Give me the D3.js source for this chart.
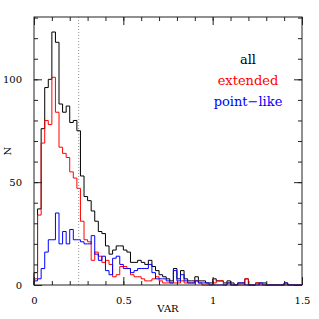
<!DOCTYPE html>
<html>
<head>
<meta charset="utf-8">
<script src="https://cdn.jsdelivr.net/npm/d3@7"></script>
<style>
  body { margin: 0; background: #fff; }
  svg text { font-family: "DejaVu Serif", serif; }
</style>
</head>
<body>
<svg id="chart" width="319" height="319"></svg>
<script>
// histogram of VAR, bin width 0.02 from 0 to 1.5
const binWidth = 0.02;
const allCounts = [
  6, 37, 76, 96, 100, 123, 118, 88, 84, 87,
  79, 80, 75, 53, 43, 41, 36, 31, 26, 25,
  19, 15, 17, 19, 19, 17, 16, 11, 11, 12,
  11, 10, 12, 9, 7, 5, 4, 3, 2, 8,
  3, 7, 3, 2, 2, 4, 2, 2, 1, 1,
  3, 2, 2, 1, 2, 1, 0, 1, 1, 3,
  0, 0, 1, 1, 1, 0, 0, 0, 0, 0,
  1, 0, 0, 0, 0
];
const extendedCounts = [
  3, 34, 69, 80, 78, 101, 84, 67, 64, 62,
  55, 52, 47, 31, 22, 21, 12, 16, 14, 11,
  12, 10, 4, 5, 9, 9, 8, 5, 4, 4,
  3, 2, 2, 3, 4, 2, 1, 1, 1, 1,
  1, 2, 1, 1, 1, 2, 1, 0, 0, 0,
  1, 2, 2, 0, 1, 0, 0, 0, 0, 3,
  0, 0, 1, 0, 0, 0, 0, 0, 0, 0,
  0, 0, 0, 0, 0
];
const pointCounts = [
  2, 3, 8, 16, 22, 22, 35, 20, 26, 20,
  27, 22, 22, 21, 20, 20, 24, 15, 12, 14,
  7, 5, 13, 14, 10, 8, 8, 6, 7, 8,
  8, 8, 10, 6, 3, 3, 3, 2, 1, 7,
  2, 5, 2, 1, 1, 2, 1, 1, 1, 0,
  0, 0, 0, 0, 1, 0, 0, 1, 1, 0,
  0, 0, 0, 1, 0, 0, 0, 0, 0, 0,
  1, 0, 0, 0, 0
];
const series = [
  {name: "all", counts: allCounts, color: "#000000"},
  {name: "extended", counts: extendedCounts, color: "#ff0000"},
  {name: "point\u2212like", counts: pointCounts, color: "#0000ff"}
];
const cutValue = 0.25;
const xMajor = [0, 0.5, 1, 1.5];
const yMajor = [0, 50, 100];

const margin = {left: 34, top: 17, right: 17, bottom: 34};
const W = 319, H = 319;
const svg = d3.select('#chart');

const x = d3.scaleLinear().domain([0, 1.5]).range([margin.left, W - margin.right]);
const y = d3.scaleLinear().domain([0, 130.3]).range([H - margin.bottom, margin.top]);

const xMinor = d3.range(0, 1.5001, 0.1);
const yMinor = d3.range(0, 131, 10);
const axisColor = '#222';

// histograms as steps
const step = counts => {
  const pts = [[x(0), y(0)]];
  counts.forEach((c, i) => {
    pts.push([x(i * binWidth), y(c)]);
    pts.push([x((i + 1) * binWidth), y(c)]);
  });
  pts.push([x(counts.length * binWidth), y(0)]);
  return d3.line()(pts);
};

svg.append('g').selectAll('path')
  .data(series)
  .enter().append('path')
  .attr('d', d => step(d.counts))
  .attr('fill', 'none')
  .attr('stroke', d => d.color)
  .attr('stroke-width', 1);

// dotted cut line
svg.append('line')
  .attr('x1', x(cutValue)).attr('x2', x(cutValue))
  .attr('y1', y(0)).attr('y2', y.range()[1])
  .attr('stroke', '#777')
  .attr('stroke-width', 0.8)
  .attr('stroke-dasharray', '1,2');

// frame
svg.append('rect')
  .attr('x', x(0)).attr('y', y.range()[1])
  .attr('width', x(1.5) - x(0))
  .attr('height', y(0) - y.range()[1])
  .attr('fill', 'none')
  .attr('stroke', axisColor)
  .attr('stroke-width', 1);

function ticks(axisGen, tx, ty, values, size, labels) {
  const g = svg.append('g')
    .attr('transform', `translate(${tx},${ty})`)
    .call(axisGen.tickValues(values).tickSize(-size).tickPadding(size + 4)
      .tickFormat(labels ? d3.format('') : ''));
  g.select('.domain').remove();
  g.selectAll('.tick line').attr('stroke', axisColor);
  g.selectAll('.tick text')
    .attr('fill', '#000')
    .attr('font-size', 10)
    .attr('font-family', '"DejaVu Serif", serif');
  return g;
}

ticks(d3.axisBottom(x), 0, y(0), xMinor, 4, false);
ticks(d3.axisBottom(x), 0, y(0), xMajor, 8, true);
ticks(d3.axisTop(x), 0, y.range()[1], xMinor, 4, false);
ticks(d3.axisTop(x), 0, y.range()[1], xMajor, 8, false);
ticks(d3.axisLeft(y), x(0), 0, yMinor, 4, false);
ticks(d3.axisLeft(y), x(0), 0, yMajor, 8, true);
ticks(d3.axisRight(y), x(1.5), 0, yMinor, 4, false);
ticks(d3.axisRight(y), x(1.5), 0, yMajor, 8, false);

// axis titles
svg.append('text')
  .attr('x', (x(0) + x(1.5)) / 2).attr('y', 312)
  .attr('text-anchor', 'middle')
  .attr('font-size', 10)
  .text('VAR');

svg.append('text')
  .attr('transform', `translate(11,${(y(0) + y.range()[1]) / 2}) rotate(-90)`)
  .attr('text-anchor', 'middle')
  .attr('font-size', 10)
  .text('N');

// legend
svg.append('g').selectAll('text')
  .data(series)
  .enter().append('text')
  .attr('x', 248)
  .attr('y', (d, i) => 64 + i * 21)
  .attr('text-anchor', 'middle')
  .attr('font-size', 13)
  .attr('fill', d => d.color)
  .text(d => d.name);
</script>
</body>
</html>
